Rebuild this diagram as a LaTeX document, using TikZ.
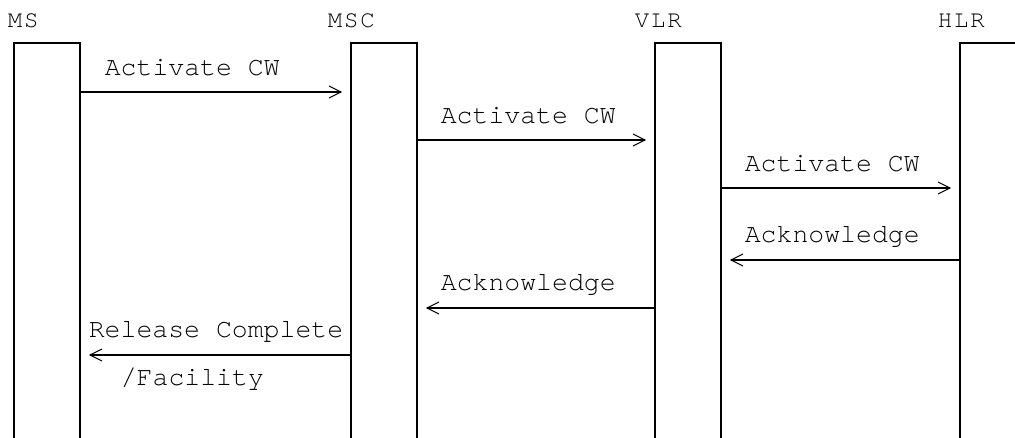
\documentclass[tikz,border=0pt]{standalone}
\usepackage{fontspec}
\setmonofont{TeX Gyre Cursor}
\newfontfamily\hdrfamily[LetterSpace=8]{TeX Gyre Cursor}
\usetikzlibrary{arrows.meta}
\begin{document}
\begin{tikzpicture}[x=1pt,y=-1pt,
  line width=1.6pt,
  lifeline/.style={inner sep=0pt, minimum height=393pt},
  msg/.style={line width=1.9pt, -{Straight Barb[length=12pt,width=12pt,line width=1pt]}, shorten >=9pt},
  hdr/.style={font=\fontsize{24}{24}\selectfont\hdrfamily, inner sep=0pt, anchor=base west},
  lbl/.style={font=\fontsize{26.5}{26.5}\selectfont\ttfamily, inner sep=0pt, anchor=base west}]
\useasboundingbox (0,0) rectangle (1015,437);
% lifelines
\node[lifeline, minimum width=64pt] (ms)  at (47,240.5) {};
\node[lifeline, minimum width=64pt] (msc) at (384,240.5) {};
\node[lifeline, minimum width=64pt] (vlr) at (688,240.5) {};
\node[lifeline, minimum width=54pt] (hlr) at (988,240.5) {};
\draw (ms.south west) -- (ms.north west) -- (ms.north east) -- (ms.south east);
\draw (msc.south west) -- (msc.north west) -- (msc.north east) -- (msc.south east);
\draw (vlr.south west) -- (vlr.north west) -- (vlr.north east) -- (vlr.south east);
\draw (hlr.south west) -- (hlr.north west) -- (hlr.north east);
% headers
\node[hdr] (hms)  at (7,27)   {MS};
\node[hdr] (hmsc) at (327,27) {MSC};
\node[hdr] (hvlr) at (634,27) {VLR};
\node[hdr] (hhlr) at (937,27) {HLR};
% messages
\draw[msg] (ms.east |- 0,92)   -- (msc.west |- 0,92);
\node[lbl] (l1) at (104,75) {Activate CW};
\draw[msg] (msc.east |- 0,140) -- (vlr.west |- 0,140);
\node[lbl] (l2) at (440,123) {Activate CW};
\draw[msg] (vlr.east |- 0,188) -- (hlr.west |- 0,188);
\node[lbl] (l3) at (744,171) {Activate CW};
\draw[msg] (hlr.west |- 0,260) -- (vlr.east |- 0,260);
\node[lbl] (l4) at (744,242) {Acknowledge};
\draw[msg] (vlr.west |- 0,308) -- (msc.east |- 0,308);
\node[lbl] (l5) at (440,290) {Acknowledge};
\draw[msg] (msc.west |- 0,355) -- (ms.east |- 0,355);
\node[lbl] (l6) at (88,337) {Release Complete};
\node[lbl] (l7) at (120,385) {/Facility};
\end{tikzpicture}
\end{document}
